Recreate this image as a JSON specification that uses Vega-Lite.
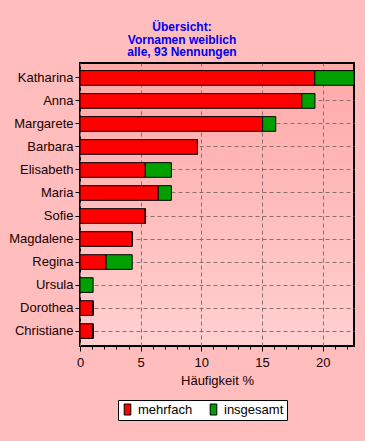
{
  "$schema": "https://vega.github.io/schema/vega-lite/v6.json",
  "autosize": {"type": "none"},
  "padding": {"left": 80, "top": 63, "right": 11, "bottom": 95},
  "width": 274,
  "height": 283,
  "background": "#FFBDBD",
  "title": {
    "text": ["Übersicht:", "Vornamen weiblich", "alle, 93 Nennungen"],
    "anchor": "middle",
    "frame": "group",
    "dx": -35,
    "offset": 4,
    "font": "Liberation Sans",
    "fontSize": 12,
    "fontWeight": "bold",
    "lineHeight": 12.5,
    "color": "#0000F0"
  },
  "data": {
    "values": [
      {"name": "Katharina", "serie": "mehrfach", "k": 1, "wert": 19.35},
      {"name": "Katharina", "serie": "insgesamt", "k": 2, "wert": 3.23},
      {"name": "Anna", "serie": "mehrfach", "k": 1, "wert": 18.28},
      {"name": "Anna", "serie": "insgesamt", "k": 2, "wert": 1.08},
      {"name": "Margarete", "serie": "mehrfach", "k": 1, "wert": 15.05},
      {"name": "Margarete", "serie": "insgesamt", "k": 2, "wert": 1.08},
      {"name": "Barbara", "serie": "mehrfach", "k": 1, "wert": 9.68},
      {"name": "Barbara", "serie": "insgesamt", "k": 2, "wert": 0},
      {"name": "Elisabeth", "serie": "mehrfach", "k": 1, "wert": 5.38},
      {"name": "Elisabeth", "serie": "insgesamt", "k": 2, "wert": 2.15},
      {"name": "Maria", "serie": "mehrfach", "k": 1, "wert": 6.45},
      {"name": "Maria", "serie": "insgesamt", "k": 2, "wert": 1.08},
      {"name": "Sofie", "serie": "mehrfach", "k": 1, "wert": 5.38},
      {"name": "Sofie", "serie": "insgesamt", "k": 2, "wert": 0},
      {"name": "Magdalene", "serie": "mehrfach", "k": 1, "wert": 4.30},
      {"name": "Magdalene", "serie": "insgesamt", "k": 2, "wert": 0},
      {"name": "Regina", "serie": "mehrfach", "k": 1, "wert": 2.15},
      {"name": "Regina", "serie": "insgesamt", "k": 2, "wert": 2.15},
      {"name": "Ursula", "serie": "mehrfach", "k": 1, "wert": 0},
      {"name": "Ursula", "serie": "insgesamt", "k": 2, "wert": 1.08},
      {"name": "Dorothea", "serie": "mehrfach", "k": 1, "wert": 1.08},
      {"name": "Dorothea", "serie": "insgesamt", "k": 2, "wert": 0},
      {"name": "Christiane", "serie": "mehrfach", "k": 1, "wert": 1.08},
      {"name": "Christiane", "serie": "insgesamt", "k": 2, "wert": 0}
    ]
  },
  "mark": {"type": "bar", "stroke": "#000000", "strokeWidth": 1},
  "encoding": {
    "y": {
      "field": "name",
      "type": "nominal",
      "sort": ["Katharina", "Anna", "Margarete", "Barbara", "Elisabeth", "Maria", "Sofie", "Magdalene", "Regina", "Ursula", "Dorothea", "Christiane"],
      "scale": {"paddingInner": 0.363, "paddingOuter": 0.33},
      "axis": {
        "title": null,
        "domain": false,
        "grid": true,
        "bandPosition": 0.5,
        "gridColor": "#8C6E6E",
        "gridDash": [4, 3],
        "tickColor": "#000000",
        "tickSize": 5,
        "labelPadding": 2,
        "labelFont": "Liberation Sans",
        "labelFontSize": 13,
        "labelColor": "#1A0000"
      }
    },
    "x": {
      "field": "wert",
      "type": "quantitative",
      "stack": "zero",
      "scale": {"domain": [0, 22.58], "nice": false, "zero": true},
      "axis": {
        "title": "Häufigkeit %",
        "titleFont": "Liberation Sans",
        "titleFontSize": 13,
        "titleFontWeight": "normal",
        "titleColor": "#1A0000",
        "titlePadding": 5,
        "values": [0, 1, 2, 3, 4, 5, 6, 7, 8, 9, 10, 11, 12, 13, 14, 15, 16, 17, 18, 19, 20, 21, 22],
        "labelExpr": "datum.value % 5 === 0 ? datum.label : ''",
        "domain": false,
        "grid": true,
        "gridColor": "#8C6E6E",
        "gridDash": [4, 3],
        "gridOpacity": {"condition": {"test": "datum.value % 5 === 0", "value": 1}, "value": 0},
        "tickColor": "#000000",
        "tickSize": {"condition": {"test": "datum.value % 5 === 0", "value": 5}, "value": 3},
        "labelPadding": 5,
        "labelFont": "Liberation Sans",
        "labelFontSize": 13,
        "labelColor": "#1A0000",
        "labelFlush": false
      }
    },
    "color": {
      "field": "serie",
      "type": "nominal",
      "scale": {"domain": ["mehrfach", "insgesamt"], "range": ["#FF0000", "#00A000"]},
      "legend": {
        "title": null,
        "orient": "none",
        "legendX": 38,
        "legendY": 337,
        "direction": "horizontal",
        "fillColor": "#FFFFFF",
        "strokeColor": "#000000",
        "padding": 3,
        "symbolType": "M-0.6,-1L0.6,-1L0.6,1L-0.6,1Z",
        "symbolSize": 121,
        "symbolStrokeColor": "#000000",
        "symbolStrokeWidth": 1,
        "symbolOpacity": 1,
        "labelFont": "Liberation Sans",
        "labelFontSize": 13,
        "labelColor": "#000000",
        "labelOffset": 4,
        "columnPadding": 14
      }
    },
    "order": {"field": "k", "type": "quantitative"}
  },
  "config": {
    "view": {
      "stroke": "#000000",
      "strokeWidth": 2,
      "fill": {
        "gradient": "linear",
        "x1": 0, "y1": 0, "x2": 0, "y2": 1,
        "stops": [
          {"offset": 0, "color": "#FFA8A8"},
          {"offset": 1, "color": "#FFD0D0"}
        ]
      }
    }
  }
}
